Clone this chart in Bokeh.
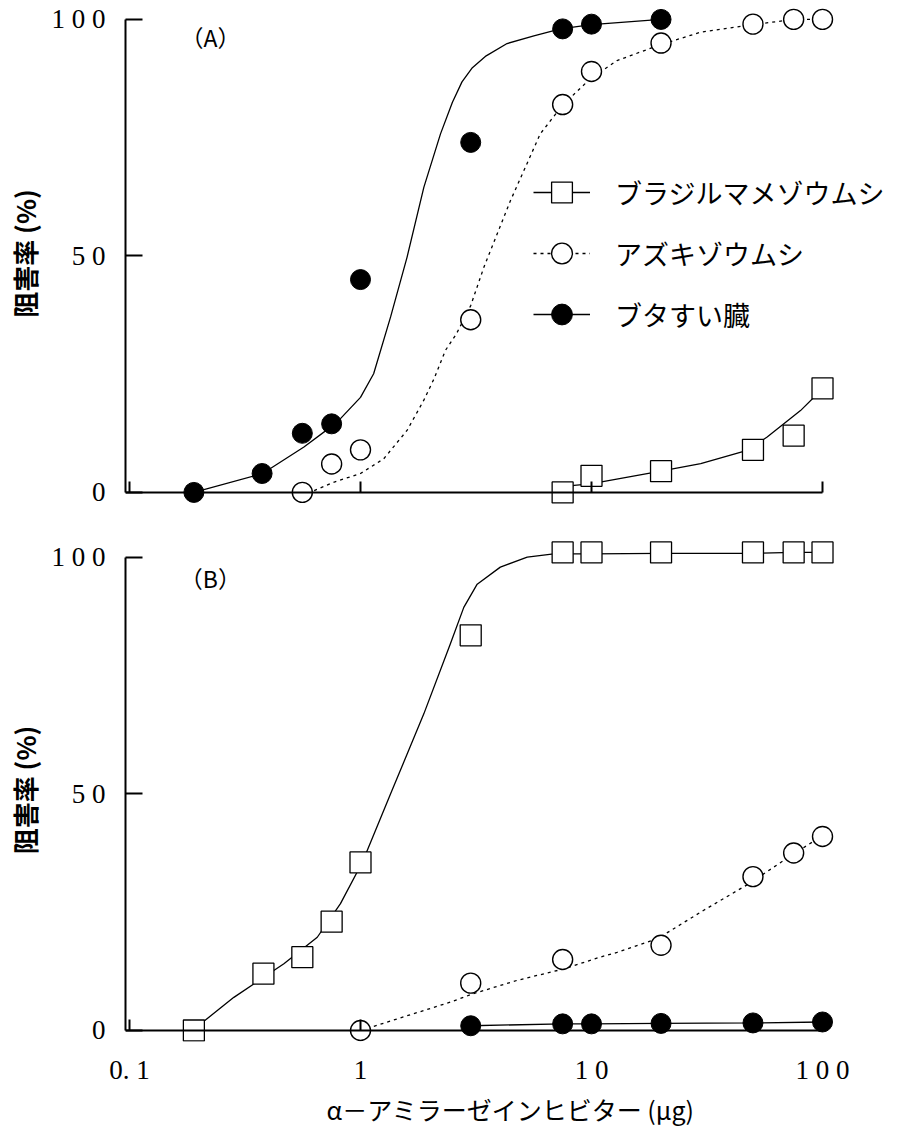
from bokeh.plotting import figure
from bokeh.layouts import column
from bokeh.models import (Range1d, FixedTicker, CustomJSTickFormatter, Legend,
                          LegendItem, Label, LogAxis, Title)
from bokeh.embed import file_html
from bokeh.resources import INLINE

# ---------------- data ----------------
x_ticks = [0.1, 1, 10, 100]
x_tick_labels = ["0. 1", "1", "1 0", "1 0 0"]
y_ticks = [0, 50, 100]
y_tick_labels = ["0", "5 0", "1 0 0"]

series_names = ["ブラジルマメゾウムシ", "アズキゾウムシ", "ブタすい臓"]
x_title = "α－アミラーゼインヒビター (μg)"
y_title = "阻害率 (%)"
panel_names = ["（A）", "（B）"]

# Panel A - measured points
a_brazil_x = [7.5, 10, 20, 50, 75, 100]
a_brazil_y = [0, 3.5, 4.5, 9, 12, 22]
a_azuki_x = [0.56, 0.75, 1, 3, 7.5, 10, 20, 50, 75, 100]
a_azuki_y = [0, 6, 9, 36.5, 82, 89, 95, 99, 100, 100]
a_pig_x = [0.19, 0.375, 0.56, 0.75, 1, 3, 7.5, 10, 20]
a_pig_y = [0, 4, 12.5, 14.5, 45, 74, 98, 99, 100]

# Panel A - fitted curves (traced)
a_brazil_cx = [7.5, 8.4, 9.9, 18.9, 29.7, 47.2, 57.6, 80.3, 100]
a_brazil_cy = [0.5, 1.5, 1.8, 4.3, 6.1, 8.9, 11.7, 17.3, 21.9]
a_azuki_cx = [0.63, 0.77, 1.0, 1.26, 1.59, 1.88, 2.08, 2.33, 2.6, 3.0, 3.42,
              4.46, 6.0, 7.47, 9.9, 12.9, 20, 29.7, 50, 75, 100]
a_azuki_cy = [0.4, 2.2, 4.0, 7.1, 13.1, 19.5, 24, 30, 33.5, 39.5, 47.6,
              61.7, 75.8, 81.8, 87.5, 91.3, 94.7, 97.3, 98.9, 100, 100]
a_pig_cx = [0.19, 0.377, 0.569, 0.742, 0.819, 1.0, 1.14, 1.35, 1.59, 1.88,
            2.22, 2.5, 2.75, 3.05, 3.5, 4.31, 5.63, 7.34, 10, 20]
a_pig_cy = [0, 4, 9.6, 13.8, 15.6, 20.1, 25.1, 37.1, 49.7, 64.5,
            75.8, 82.5, 86.8, 89.8, 92.3, 94.9, 96.5, 98, 98.9, 100]

# Panel B - measured points
b_brazil_x = [0.19, 0.38, 0.56, 0.75, 1, 3, 7.5, 10, 20, 50, 75, 100]
b_brazil_y = [0, 12, 15.5, 23, 35.5, 83.5, 101, 101, 101, 101, 101, 101]
b_azuki_x = [1, 3, 7.5, 20, 50, 75, 100]
b_azuki_y = [0, 10, 15, 18, 32.5, 37.5, 41]
b_pig_x = [3, 7.5, 10, 20, 50, 100]
b_pig_y = [1, 1.4, 1.4, 1.5, 1.6, 1.8]

# Panel B - fitted curves (traced)
b_brazil_cx = [0.187, 0.283, 0.466, 0.65, 0.819, 1.02, 1.35, 1.88, 2.45, 2.8,
               3.2, 4.03, 5.27, 6.86, 10, 20, 50, 75, 100]
b_brazil_cy = [0, 7, 14.1, 19.7, 26.8, 35.6, 50, 66.9, 81.7, 89.4,
               94.3, 97.9, 100, 100.7, 100.7, 100.8, 100.8, 101, 101]
b_azuki_cx = [1.0, 2.45, 3.09, 4.77, 7.58, 10.9, 12.9, 19.3, 30.6, 48, 67.8, 100]
b_azuki_cy = [0, 6.0, 7.8, 10.6, 13, 15.5, 16.5, 19.4, 25.4, 31, 35.9, 41.2]
b_pig_cx = b_pig_x
b_pig_cy = b_pig_y

# ---------------- styling / layout constants ----------------
X0, X1 = 0.0961, 207.0
FRAME_W = 770
SERIF = "Liberation Serif"
CJK = "Noto Sans CJK JP"

X_FMT = CustomJSTickFormatter(args=dict(tv=x_ticks, tl=x_tick_labels), code="""
for (let i = 0; i < tv.length; i++) {
  if (Math.abs(Math.log10(tick) - Math.log10(tv[i])) < 1e-6) return tl[i];
}
return "";
""")
Y_FMT = CustomJSTickFormatter(args=dict(tv=y_ticks, tl=y_tick_labels), code="""
for (let i = 0; i < tv.length; i++) {
  if (Math.abs(tick - tv[i]) < 1e-6) return tl[i];
}
return "";
""")


def style_zero_axis(ax):
    """axis line + inward ticks drawn at y = 0 (no labels)"""
    ax.fixed_location = 0
    ax.bounds = (X0, 100)
    ax.ticker = FixedTicker(ticks=x_ticks, minor_ticks=[])
    ax.formatter = CustomJSTickFormatter(code="return '';")
    ax.major_tick_in = 11
    ax.major_tick_out = 0
    ax.minor_tick_in = 0
    ax.minor_tick_out = 0
    ax.major_label_standoff = 0
    ax.axis_line_width = 2
    ax.major_tick_line_width = 2
    ax.axis_line_color = "black"
    ax.major_tick_line_color = "black"


def make_fig(y0, y1, frame_h, top_b, bottom_b):
    p = figure(x_axis_type="log", x_range=Range1d(X0, X1), y_range=Range1d(y0, y1),
               frame_width=FRAME_W, frame_height=frame_h,
               min_border_left=125, min_border_right=0,
               min_border_top=top_b, min_border_bottom=bottom_b,
               output_backend="svg", toolbar_location=None)
    p.outline_line_color = None
    p.xgrid.visible = False
    p.ygrid.visible = False

    ya = p.yaxis[0]
    ya.bounds = (0, 100)
    ya.ticker = FixedTicker(ticks=y_ticks, minor_ticks=[])
    ya.formatter = Y_FMT
    ya.major_tick_in = 17
    ya.major_tick_out = 0
    ya.minor_tick_in = 0
    ya.minor_tick_out = 0
    ya.axis_line_width = 2
    ya.major_tick_line_width = 2
    ya.major_label_text_font = SERIF
    ya.major_label_text_font_size = "27px"
    ya.major_label_standoff = 20
    ya.major_label_text_color = "black"
    ya.axis_label = y_title
    ya.axis_label_text_font = CJK
    ya.axis_label_text_font_size = "26px"
    ya.axis_label_text_font_style = "bold"
    ya.axis_label_standoff = 6
    ya.axis_label_text_color = "black"
    return p


def draw_panel(p, brazil, azuki, pig):
    (bx, by, bcx, bcy), (ax, ay, acx, acy), (px, py, pcx, pcy) = brazil, azuki, pig
    lb = p.line(bcx, bcy, line_color="black", line_width=1.3)
    la = p.line(acx, acy, line_color="black", line_width=1.3, line_dash="3 4")
    lp = p.line(pcx, pcy, line_color="black", line_width=1.3)
    sb = p.scatter(bx, by, marker="square", size=21, fill_color="white",
                   line_color="black", line_width=1.3)
    sa = p.scatter(ax, ay, marker="circle", size=20, fill_color="white",
                   line_color="black", line_width=1.4)
    sp = p.scatter(px, py, marker="circle", size=20, fill_color="black",
                   line_color="black", line_width=1)
    return [(lb, sb), (la, sa), (lp, sp)]


# ---------------- Panel A ----------------
PXA = 4.73
A_TOP = 104.0
A_FH = 506
pA = make_fig(A_TOP - A_FH / PXA, A_TOP, A_FH, 0, 20)
style_zero_axis(pA.xaxis[0])
rA = draw_panel(pA,
                (a_brazil_x, a_brazil_y, a_brazil_cx, a_brazil_cy),
                (a_azuki_x, a_azuki_y, a_azuki_cx, a_azuki_cy),
                (a_pig_x, a_pig_y, a_pig_cx, a_pig_cy))
legend = Legend(items=[LegendItem(label=series_names[i], renderers=list(rA[i]))
                       for i in range(3)],
                location=(408, 166), orientation="vertical",
                padding=0, margin=0, spacing=9,
                glyph_width=57, glyph_height=52, label_standoff=25,
                label_text_font=CJK, label_text_font_size="27px",
                label_text_color="black",
                border_line_color=None, background_fill_alpha=0)
pA.add_layout(legend)
pA.add_layout(Label(x=0.224, y=96.2, text=panel_names[0], text_align="center",
                    text_baseline="middle", text_font=CJK, text_font_size="23px",
                    text_color="black"))

# ---------------- Panel B ----------------
PXB = 4.733
B_TOP = 103.95
B_FH = 503
pB = make_fig(B_TOP - B_FH / PXB, B_TOP, B_FH, 12, 0)
# labels-only axis at the frame bottom
xl = pB.xaxis[0]
xl.ticker = FixedTicker(ticks=x_ticks, minor_ticks=[])
xl.formatter = X_FMT
xl.axis_line_color = None
xl.major_tick_line_color = None
xl.minor_tick_line_color = None
xl.major_tick_in = 0
xl.major_tick_out = 0
xl.minor_tick_in = 0
xl.minor_tick_out = 0
xl.major_label_standoff = 13
xl.major_label_text_font = SERIF
xl.major_label_text_font_size = "27px"
xl.major_label_text_color = "black"
# axis line with ticks at y = 0
zero_ax = LogAxis()
style_zero_axis(zero_ax)
pB.add_layout(zero_ax, "below")
pB.add_layout(Title(text=x_title, align="center", text_font=CJK,
                    text_font_size="25px", text_font_style="normal",
                    text_color="black", standoff=2), "below")

draw_panel(pB,
           (b_brazil_x, b_brazil_y, b_brazil_cx, b_brazil_cy),
           (b_azuki_x, b_azuki_y, b_azuki_cx, b_azuki_cy),
           (b_pig_x, b_pig_y, b_pig_cx, b_pig_cy))
pB.add_layout(Label(x=0.224, y=95.7, text=panel_names[1], text_align="center",
                    text_baseline="middle", text_font=CJK, text_font_size="23px",
                    text_color="black"))

layout = column(pA, pB, spacing=0)
open("out.html", "w").write(file_html(layout, INLINE))
